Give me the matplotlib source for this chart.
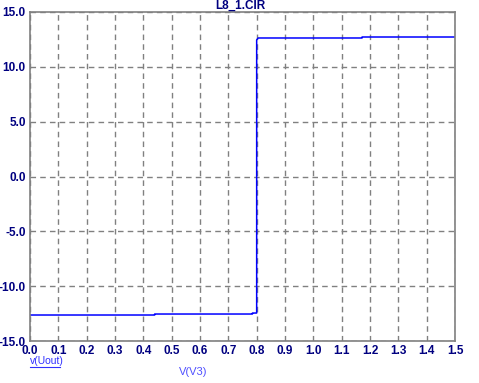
import matplotlib
matplotlib.use("Agg")
import matplotlib.pyplot as plt

# Data (step-like response)
x_vals = [0.0, 0.44, 0.44, 0.785, 0.785, 0.80, 0.80, 0.805, 1.172, 1.172, 1.5]
y_vals = [-12.63, -12.63, -12.54, -12.54, -12.45, -12.45, 12.45, 12.63, 12.63, 12.72, 12.72]

x_ticks = [0.0, 0.1, 0.2, 0.3, 0.4, 0.5, 0.6, 0.7, 0.8, 0.9, 1.0, 1.1, 1.2, 1.3, 1.4, 1.5]
y_ticks = [-15.0, -10.0, -5.0, 0.0, 5.0, 10.0, 15.0]

W, H = 479, 383
fig = plt.figure(figsize=(W/100, H/100), dpi=100)
ax = fig.add_axes([30/W, 1-341/H, 425/W, 329/H])

ax.plot(x_vals, y_vals, color="#0000ff", lw=1.1)
ax.set_xlim(0, 1.5)
ax.set_ylim(-15, 15)
ax.set_xticks(x_ticks)
ax.set_yticks(y_ticks)
ax.set_xticklabels([f"{v:.1f}" for v in x_ticks])
ax.set_yticklabels([f"{v:.1f}" for v in y_ticks])
ax.grid(True, color="#808080", ls=(0, (4, 3)), lw=1)
for s in ax.spines.values():
    s.set_color("#808080")
    s.set_linewidth(1.2)
ax.tick_params(length=0, pad=3, labelcolor="#000080")
for lab in ax.get_xticklabels() + ax.get_yticklabels():
    lab.set_fontfamily("Liberation Sans")
    lab.set_fontweight("bold")
    lab.set_fontsize(8.5)

fig.text(240/W, 1-6/H, "L8_1.CIR", ha="center", va="center", fontsize=8.5,
         fontweight="bold", color="#000080", family="Liberation Sans")
t = fig.text(30/W, 1-361/H, "v(Uout)", ha="left", va="center", fontsize=7.5,
             color="#3030ff", family="Liberation Sans")
fig.add_artist(plt.Line2D([30/W, 60/W], [1-367/H, 1-367/H], color="#3030ff", lw=0.8))
fig.text(193/W, 1-372/H, "V(V3)", ha="center", va="center", fontsize=8,
         color="#5050ff", family="Liberation Sans")

fig.savefig("out.png", dpi=100)
